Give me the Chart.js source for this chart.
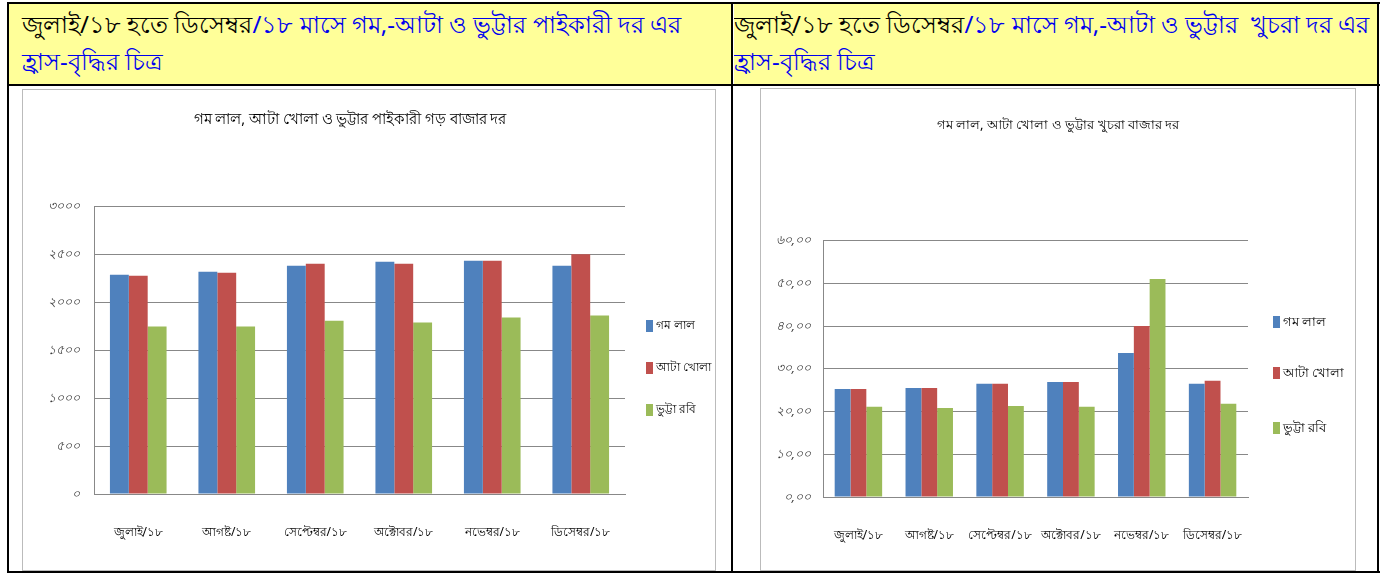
<!DOCTYPE html>
<html>
<head>
<meta charset="utf-8">
<script src="https://cdn.jsdelivr.net/npm/chart.js@4.4.0/dist/chart.umd.min.js"></script>
<style>
  html, body { margin: 0; padding: 0; background: #fff; width: 1381px; height: 583px; overflow: hidden; font-family: 'Noto Sans', 'DejaVu Sans', sans-serif; }
  .abs { position: absolute; }
  .hdr { background: #FFFF99; font-size: 24px; line-height: 37px; color: #0000EE; box-sizing: border-box; padding-top: 1px; white-space: nowrap; overflow: hidden; }
  .hdr .blk { color: #000; }
  .line { background: #000; }
  .frame { border: 1px solid #bbb; box-sizing: border-box; background: #fff; }
</style>
</head>
<body>
<!-- header cells -->
<div class="abs hdr" style="left:9px; top:4px; width:722px; height:80px; padding-left:13px;"><span class="blk">জুলাই/১৮ হতে ডিসেম্বর</span>/১৮ মাসে গম,-আটা ও ভুট্টার পাইকারী দর এর<br>হ্রাস-বৃদ্ধির চিত্র</div>
<div class="abs hdr" style="left:734px; top:4px; width:643px; height:80px; padding-left:0px;"><span class="blk">জুলাই/১৮ হতে ডিসেম্বর</span>/১৮ মাসে গম,-আটা ও ভুট্টার &nbsp;খুচরা দর এর<br>হ্রাস-বৃদ্ধির চিত্র</div>
<!-- table lines -->
<div class="abs line" style="left:7px; top:2px; width:1373px; height:2px;"></div>
<div class="abs line" style="left:7px; top:84px; width:1373px; height:2px;"></div>
<div class="abs line" style="left:7px; top:571px; width:1373px; height:2px;"></div>
<div class="abs line" style="left:7px; top:2px; width:2px; height:571px;"></div>
<div class="abs line" style="left:731px; top:2px; width:2px; height:571px;"></div>
<div class="abs line" style="left:1377px; top:2px; width:2px; height:571px;"></div>
<!-- chart frames -->
<div class="abs frame" style="left:22px; top:89px; width:694px; height:482px;"><canvas id="c1" width="692" height="480"></canvas></div>
<div class="abs frame" style="left:760px; top:88px; width:596px; height:483px;"><canvas id="c2" width="594" height="481"></canvas></div>

<script>
// ---------- data ----------
const categories = ['জুলাই/১৮', 'আগষ্ট/১৮', 'সেপ্টেম্বর/১৮', 'অক্টোবর/১৮', 'নভেম্বর/১৮', 'ডিসেম্বর/১৮'];
const seriesNames = ['গম লাল', 'আটা খোলা', 'ভুট্টা রবি'];

// wholesale (left chart)
const wholesaleWheat = [2288, 2319, 2381, 2423, 2434, 2381];
const wholesaleAtta  = [2277, 2308, 2403, 2403, 2434, 2500];
const wholesaleMaize = [1746, 1746, 1808, 1788, 1840, 1861];
const wholesaleTicks = ['০', '৫০০', '১০০০', '১৫০০', '২০০০', '২৫০০', '৩০০০'];
const wholesaleTitle = 'গম লাল, আটা খোলা ও ভুট্টার পাইকারী গড় বাজার দর';

// retail (right chart)
const retailWheat = [25.3, 25.5, 26.5, 26.9, 33.7, 26.5];
const retailAtta  = [25.3, 25.5, 26.5, 26.9, 40.0, 27.2];
const retailMaize = [21.1, 20.8, 21.3, 21.1, 51.0, 21.8];
const retailTicks = ['০,০০', '১০,০০', '২০,০০', '৩০,০০', '৪০,০০', '৫০,০০', '৬০,০০'];
const retailTitle = 'গম লাল, আটা খোলা ও ভুট্টার খুচরা বাজার দর';

const colors = ['#4F81BD', '#C0504D', '#9BBB59'];
const FONT = "'Noto Sans', 'DejaVu Sans', sans-serif";

// custom legend (vertical, widely spaced) drawn on the canvas
const sideLegend = {
  id: 'sideLegend',
  afterDraw(chart, args, opts) {
    const ctx = chart.ctx;
    ctx.save();
    ctx.font = opts.size + 'px ' + FONT;
    ctx.textBaseline = 'middle';
    chart.data.datasets.forEach((ds, i) => {
      const y = opts.ys[i];
      ctx.fillStyle = ds.backgroundColor;
      ctx.fillRect(opts.x, y - 6, 7, 12);
      ctx.fillStyle = '#000';
      ctx.fillText(ds.label, opts.x + 10, y);
    });
    ctx.restore();
  }
};

function makeChart(id, cfg) {
  const datasets = cfg.values.map((v, i) => ({
    label: seriesNames[i], data: v, backgroundColor: colors[i],
    borderWidth: 0, categoryPercentage: cfg.catPct, barPercentage: 1.0
  }));
  return new Chart(document.getElementById(id), {
    type: 'bar',
    data: { labels: categories, datasets },
    plugins: [sideLegend],
    options: {
      responsive: false, animation: false, devicePixelRatio: 1,
      layout: { padding: { left: 0, right: cfg.padRight, top: 0, bottom: 0 } },
      plugins: {
        legend: { display: false },
        tooltip: { enabled: false },
        title: {
          display: true, text: cfg.title, color: '#000',
          font: { family: FONT, size: cfg.titleSize, weight: 'normal', lineHeight: 1.2 },
          padding: { top: cfg.titleTop, bottom: cfg.titleBottom }
        },
        sideLegend: { x: cfg.legendX, ys: cfg.legendYs, size: cfg.legendSize }
      },
      scales: {
        x: {
          grid: { display: false },
          border: { display: true, color: '#888', width: 1 },
          ticks: { color: '#000', padding: cfg.xPad, maxRotation: 0, autoSkip: false, font: { family: FONT, size: 12 } },
          afterFit(s) { s.height = cfg.xHeight; }
        },
        y: {
          min: 0, max: cfg.max,
          afterBuildTicks(s) { s.ticks = cfg.ticks.map((t, i) => ({ value: i * cfg.step })); },
          grid: { color: '#888', lineWidth: 1, drawTicks: false },
          border: { display: true, color: '#888', width: 1 },
          ticks: {
            color: '#3a3a3a', padding: cfg.yPad,
            font: { family: FONT, size: 12.5, style: 'italic' },
            callback: (v, i) => cfg.ticks[i]
          },
          afterFit(s) { s.width = cfg.yWidth; }
        },
        // empty right-hand axis that reserves room for the side legend
        yR: {
          position: 'right', display: true,
          grid: { display: false }, border: { display: false },
          ticks: { display: false },
          afterFit(s) { s.width = cfg.legendRoom; }
        }
      }
    }
  });
}

makeChart('c1', {
  values: [wholesaleWheat, wholesaleAtta, wholesaleMaize], title: wholesaleTitle, titleSize: 14.5,
  ticks: wholesaleTicks, max: 3000, step: 500, catPct: 0.64,
  padRight: 38, legendRoom: 52, titleTop: 21, titleBottom: 78, xHeight: 76, xPad: 23, yWidth: 71, yPad: 14,
  legendX: 623, legendYs: [236, 278, 320], legendSize: 12
});
makeChart('c2', {
  values: [retailWheat, retailAtta, retailMaize], title: retailTitle, titleSize: 13,
  ticks: retailTicks, max: 60, step: 10, catPct: 0.67,
  padRight: 0, legendRoom: 107, titleTop: 28, titleBottom: 108, xHeight: 73, xPad: 23, yWidth: 62, yPad: 12,
  legendX: 512, legendYs: [233, 284, 339], legendSize: 12.5
});
</script>
</body>
</html>
